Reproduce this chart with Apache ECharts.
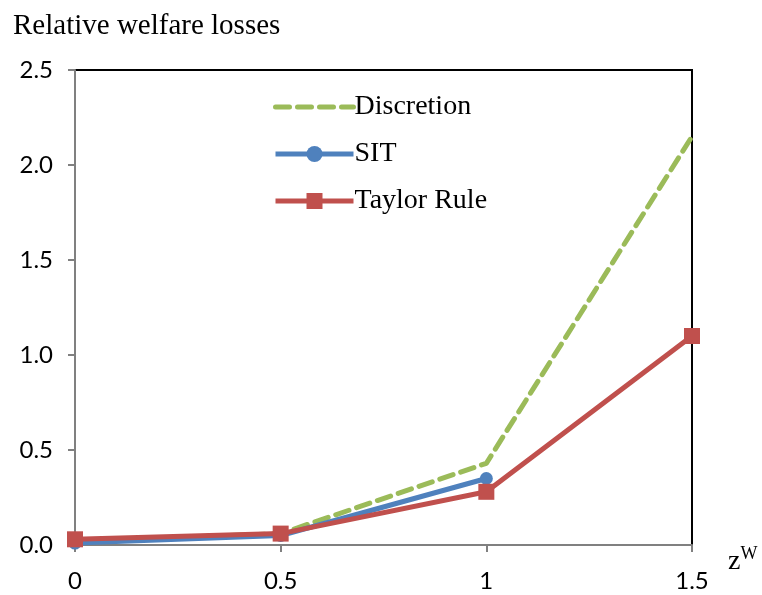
<!DOCTYPE html>
<html><head><meta charset="utf-8">
<script src="https://cdn.jsdelivr.net/npm/echarts@6/dist/echarts.min.js"></script>
<style>html,body{margin:0;padding:0;background:#fff}#c{width:762px;height:595px}</style>
</head><body><div id="c"></div>
<script>
const xValues = [0, 0.5, 1, 1.5];
const discretion = [0.02, 0.06, 0.43, 2.15];
const sit = [0.01, 0.05, 0.35, null];
const taylor = [0.03, 0.06, 0.28, 1.10];
const yTicks = ['0.0','0.5','1.0','1.5','2.0','2.5'];
const xTicks = ['0','0.5','1','1.5'];

const pairs = arr => xValues.map((x,i)=>[x,arr[i]]).filter(p=>p[1]!==null);
const chart = echarts.init(document.getElementById('c'));
chart.setOption({
  animation:false,
  title:{text:'Relative welfare losses',left:8,top:7,textStyle:{fontFamily:'Liberation Serif',fontSize:29,fontWeight:'normal',color:'#000'}},
  grid:{left:75,right:70,top:70,bottom:50,show:true,borderColor:'#000',borderWidth:2},
  legend:{orient:'vertical',left:268,top:88,itemWidth:78,itemHeight:20,itemGap:19,
    textStyle:{fontFamily:'Liberation Serif',fontSize:28,color:'#000',padding:[0,0,0,-4]},
    data:[
      {name:'Discretion',itemStyle:{opacity:0},lineStyle:{width:5,type:[14,8],cap:'round',color:'#9BBB59'}},
      {name:'SIT',lineStyle:{width:5,color:'#4F81BD'}},
      {name:'Taylor Rule',lineStyle:{width:5,color:'#C0504D'}}
    ]},
  xAxis:{type:'value',min:0,max:1.5,interval:0.5,
    name:'{a|z}{b|W}',nameLocation:'end',nameGap:36,
    nameTextStyle:{rich:{a:{fontFamily:'Liberation Serif',fontSize:28,color:'#000'},b:{fontFamily:'Liberation Serif',fontSize:18,color:'#000',padding:[0,0,16,0]}},padding:[34,0,0,0]},
    axisLine:{lineStyle:{color:'#808080',width:2}},
    axisTick:{show:true,length:7,lineStyle:{color:'#808080',width:2}},
    splitLine:{show:false},
    axisLabel:{margin:24,fontFamily:'Lato',fontSize:24,color:'#000',formatter:v=>xTicks[Math.round(v/0.5)]}},
  yAxis:{type:'value',min:0,max:2.5,interval:0.5,
    axisLine:{show:true,lineStyle:{color:'#808080',width:2}},
    axisTick:{show:true,length:7,lineStyle:{color:'#808080',width:2}},
    splitLine:{show:false},
    axisLabel:{margin:22,fontFamily:'Lato',fontSize:24,color:'#000',formatter:v=>yTicks[Math.round(v/0.5)]}},
  series:[
    {name:'Discretion',type:'line',data:pairs(discretion),symbol:'none',
      lineStyle:{color:'#9BBB59',width:5,type:[14,8],cap:'round'},itemStyle:{color:'#9BBB59'},z:2},
    {name:'SIT',type:'line',data:pairs(sit),symbol:'circle',symbolSize:13,
      lineStyle:{color:'#4F81BD',width:5},itemStyle:{color:'#4F81BD'},z:3},
    {name:'Taylor Rule',type:'line',data:pairs(taylor),symbol:'rect',symbolSize:16,
      lineStyle:{color:'#C0504D',width:5},itemStyle:{color:'#C0504D'},z:4}
  ]
});
</script></body></html>
